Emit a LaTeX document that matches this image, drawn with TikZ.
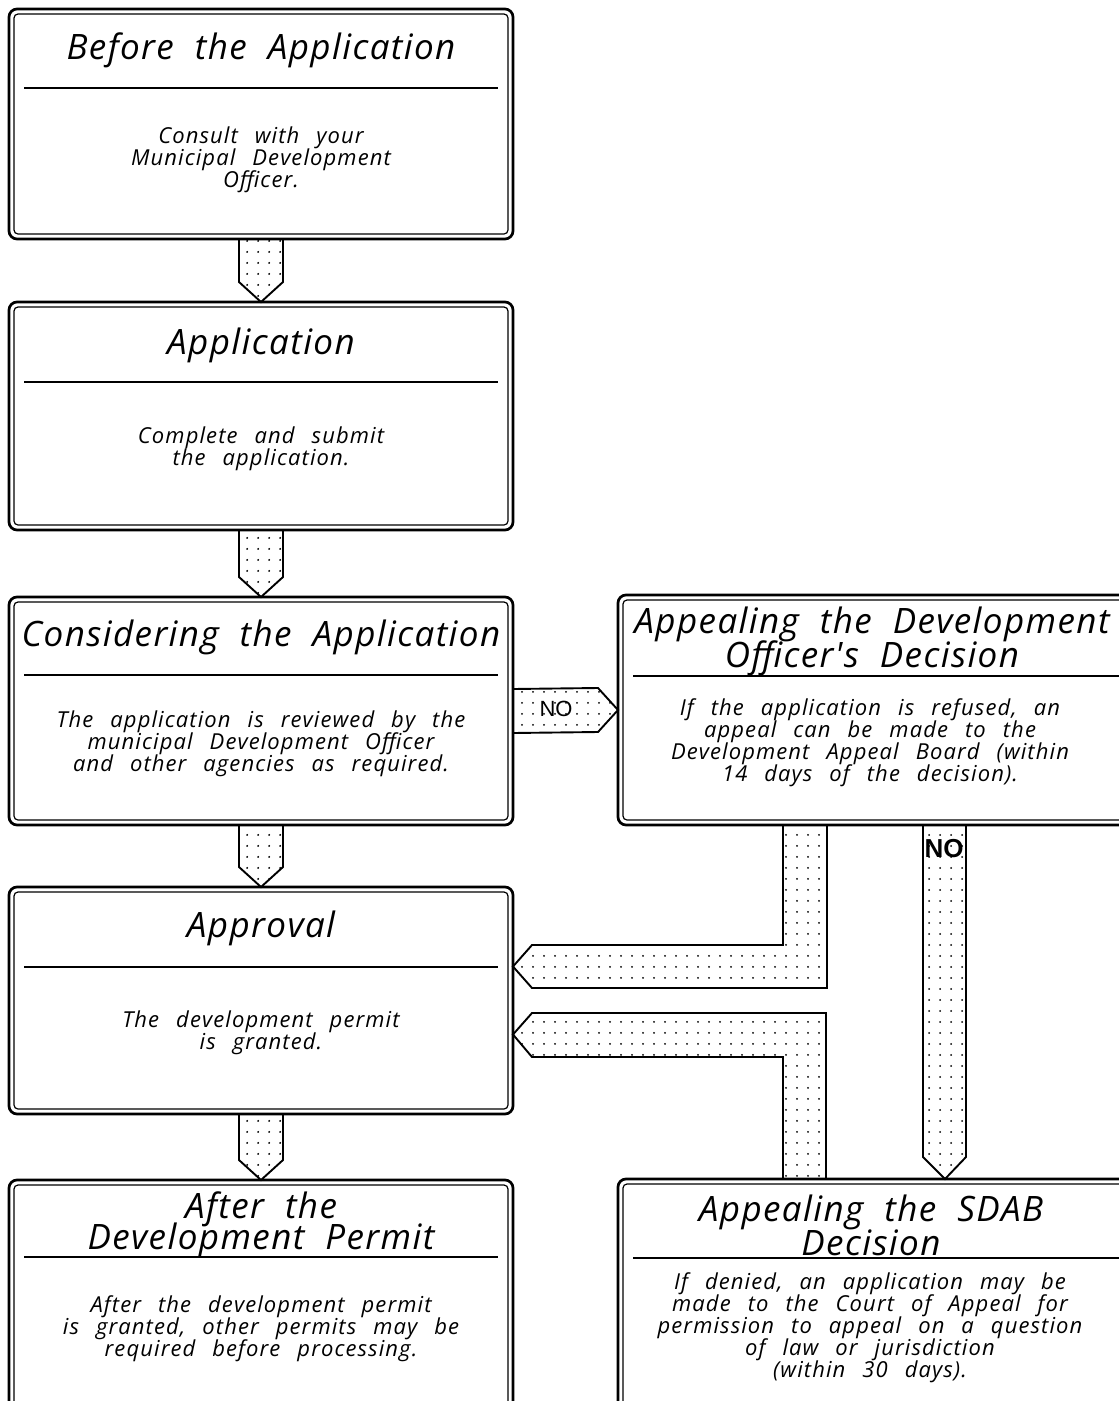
\documentclass[tikz,border=0pt]{standalone}
\usepackage{fontspec}
\usetikzlibrary{calc,patterns}
\newfontfamily\ttlfont{Open Sans}[WordSpace=2.0,LetterSpace=4.0]
\newfontfamily\bodyfont{Open Sans}[WordSpace=2.5,LetterSpace=5.0]
\newfontfamily\nofont{Liberation Sans}
\newcommand\noskiplimit{\lineskiplimit-50pt\relax}
\pgfdeclarepatternformonly{sparsedots}{\pgfpoint{0pt}{0pt}}{\pgfpoint{11pt}{11pt}}{\pgfpoint{11pt}{11pt}}{%
  \pgfpathcircle{\pgfpoint{5.5pt}{5.5pt}}{1.1pt}\pgfusepath{fill}}
\tikzset{
  boxnode/.style={draw, line width=2.7pt, rounded corners=8pt, outer sep=0pt, inner sep=0pt, anchor=north west},
  innerline/.style={draw, line width=1.2pt, rounded corners=4pt},
  divline/.style={draw, line width=1.4pt},
  ttl/.style={font={\ttlfont\itshape\fontsize{35}{34}\selectfont\noskiplimit}, align=center, inner sep=0pt},
  ttltight/.style={font={\ttlfont\itshape\fontsize{35}{31}\selectfont\noskiplimit}, align=center, inner sep=0pt},
  bodytxt/.style={font={\bodyfont\itshape\fontsize{22}{22}\selectfont\noskiplimit}, align=center, inner sep=0pt},
  blockarrow/.style={draw, line width=1.9pt, pattern=sparsedots, line join=miter},
  nolabel/.style={font=\nofont\fontsize{22}{22}\selectfont, inner sep=0pt},
  nolabelb/.style={font=\nofont\bfseries\fontsize{26}{26}\selectfont, inner sep=0pt}
}
\newcommand\dbox[5]{%
  \node[boxnode, minimum width={#4-#2}, minimum height={#5-#3}] (#1) at (#2,#3) {};
  \draw[innerline] ($(#1.north west)+(5,5)$) rectangle ($(#1.south east)+(-5,-5)$);
}
\newcommand\divider[2]{%
  \draw[divline] ($(#1.west |- 0,#2)+(15,0)$) -- ($(#1.east |- 0,#2)+(-15,0)$);
}
\newcommand\downblock[2]{%
  \draw[blockarrow] ($(#1.south)+(-22,0)$) -- ($(#2.north)+(-22,-20)$) -- (#2.north)
    -- ($(#2.north)+(22,-20)$) -- ($(#1.south)+(22,0)$);
}
\begin{document}
\begin{tikzpicture}[x=1pt,y=-1pt]
\clip (0,0) rectangle (1119,1401);
\fill[white] (0,0) rectangle (1119,1401);

% left column boxes
\dbox{b1}{9}{9}{513}{239}
\dbox{b2}{9}{302}{513}{530}
\dbox{b3}{9}{597}{513}{825}
\dbox{b4}{9}{887}{513}{1114}
\dbox{b5}{9}{1180}{513}{1430}
% right column boxes
\dbox{ba}{618}{595}{1140}{825}
\dbox{bb}{618}{1179}{1140}{1430}

% dividers
\divider{b1}{88}
\divider{b2}{382}
\divider{b3}{675}
\divider{b4}{967}
\divider{b5}{1257}
\divider{ba}{676}
\divider{bb}{1258}

% texts
\node[ttl] (b1t) at (261,50) {Before the Application};
\node[bodytxt] (b1b) at (261,160) {Consult with your\\Municipal Development\\Officer.};
\node[ttl] (b2t) at (261,345) {Application};
\node[bodytxt] (b2b) at (261,449) {Complete and submit\\the application.};
\node[ttl] (b3t) at (261,637) {Considering the Application};
\node[bodytxt] (b3b) at (261,744) {The application is reviewed by the\\municipal Development Officer\\and other agencies as required.};
\node[ttl] (b4t) at (261,928) {Approval};
\node[bodytxt] (b4b) at (261,1033) {The development permit\\is granted.};
\node[ttltight] (b5t) at (261,1225) {After the\\Development Permit};
\node[bodytxt] (b5b) at (261,1329) {After the development permit\\is granted, other permits may be\\required before processing.};
\node[ttl] (bat) at (872,641) {Appealing the Development\\Officer's Decision};
\node[bodytxt] (bab) at (870,743) {If the application is refused, an\\appeal can be made to the\\Development Appeal Board (within\\14 days of the decision).};
\node[ttl] (bbt) at (871,1225) {Appealing the SDAB\\Decision};
\node[bodytxt] (bbb) at (870,1328) {If denied, an application may be\\made to the Court of Appeal for\\permission to appeal on a question\\of law or jurisdiction\\(within 30 days).};

% down arrows
\downblock{b1}{b2}
\downblock{b2}{b3}
\downblock{b3}{b4}
\downblock{b4}{b5}

% NO arrow right
\draw[blockarrow] ($(b3.east)+(0,-22)$) -- ($(ba.west)+(-20,-22)$) -- (ba.west)
  -- ($(ba.west)+(-20,22)$) -- ($(b3.east)+(0,22)$);
\node[nolabel] (no1) at (556,709) {NO};

% upper T arrow (appeal -> approval)
\coordinate (u1) at ($(ba.south west)+(165,0)$);
\coordinate (u2) at ($(ba.south west)+(209,0)$);
\coordinate (utip) at ($(b4.east)+(0,-34)$);
\draw[blockarrow] (u1) -- (u1 |- 0,945) -- (532,945) -- (utip) -- (532,988) -- (u2 |- 0,988) -- (u2);

% lower T arrow (SDAB -> approval)
\coordinate (l1) at ($(bb.north west)+(165,0)$);
\coordinate (l2) at ($(bb.north west)+(208,0)$);
\coordinate (ltip) at ($(b4.east)+(0,34)$);
\draw[blockarrow] (l1) -- (l1 |- 0,1057) -- (532,1057) -- (ltip) -- (532,1013) -- (l2 |- 0,1013) -- (l2);

% vertical NO arrow (appeal -> SDAB)
\coordinate (v1) at ($(ba.south west)+(305,0)$);
\coordinate (v2) at ($(ba.south west)+(348,0)$);
\coordinate (vtip) at ($(bb.north west)+(327,0)$);
\draw[blockarrow] (v1) -- ($(vtip)+(-22,-22)$) -- (vtip) -- ($(vtip)+(21,-22)$) -- (v2);
\node[nolabelb] (no2) at (944,849) {NO};
\end{tikzpicture}
\end{document}
